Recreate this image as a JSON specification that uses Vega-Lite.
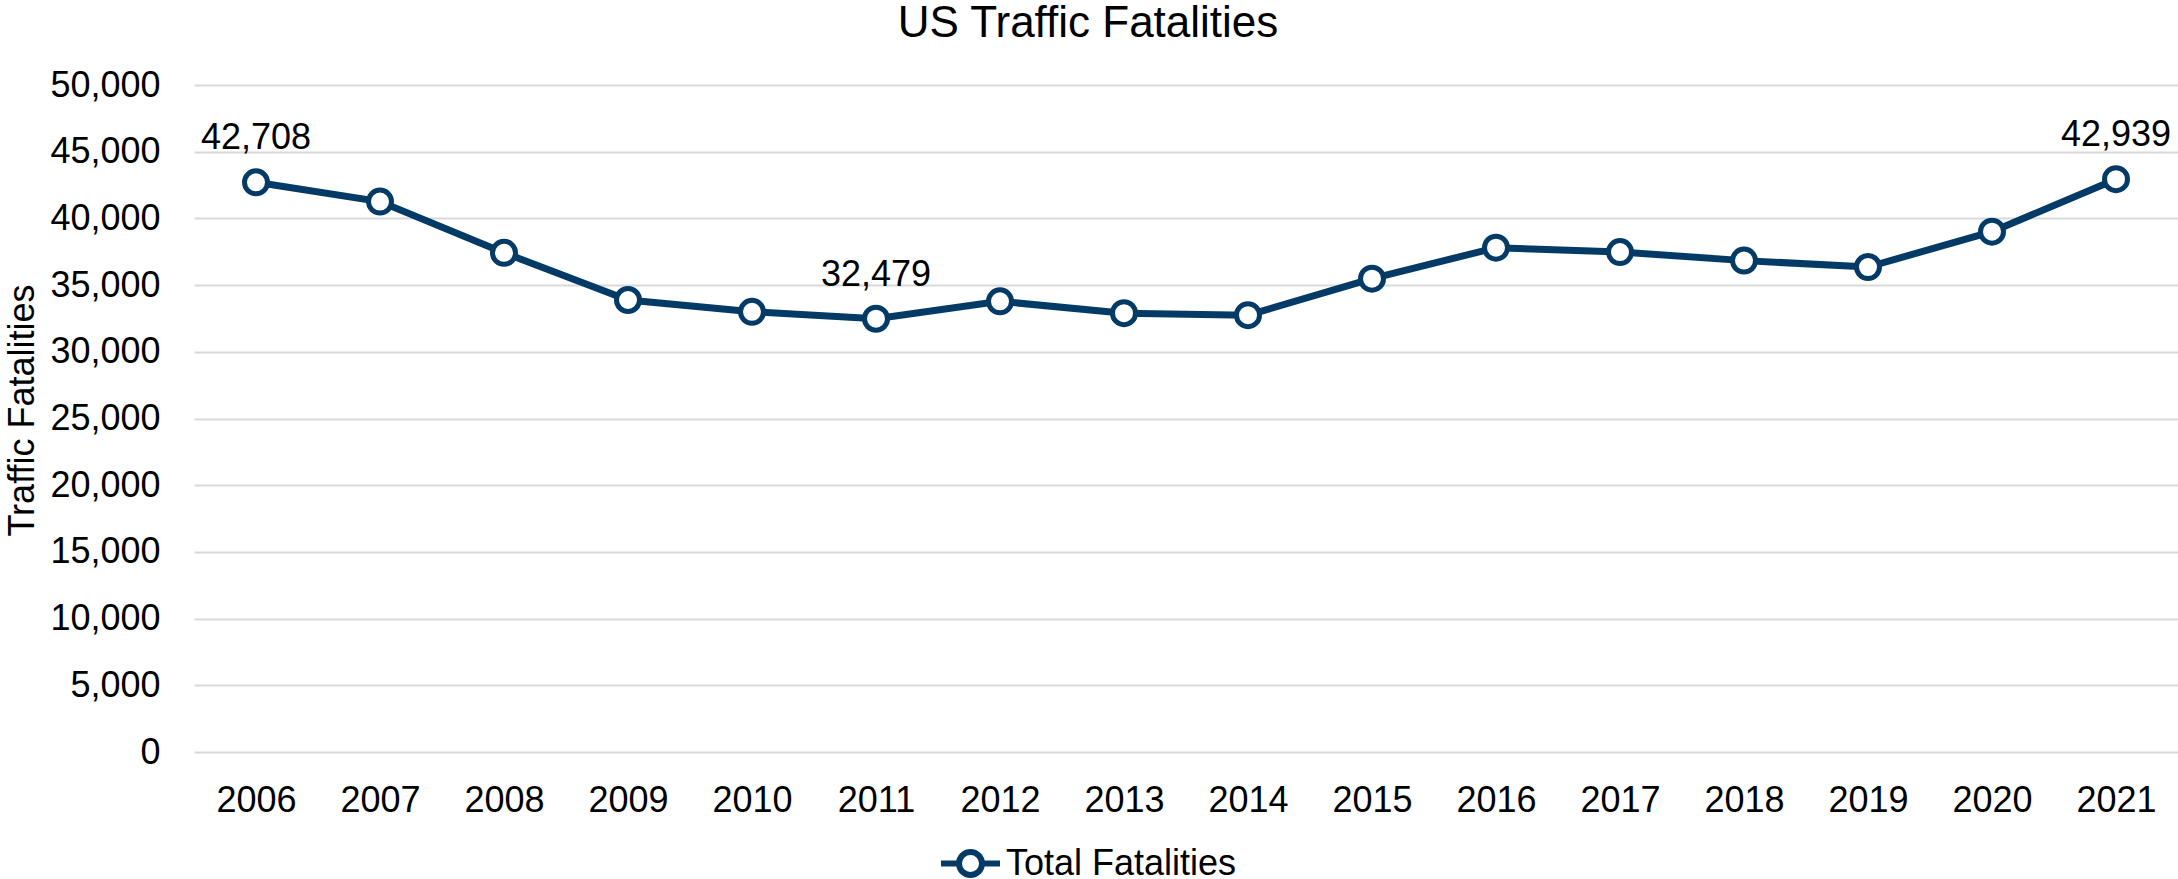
{
  "$schema": "https://vega.github.io/schema/vega-lite/v6.json",
  "width": 1984,
  "height": 667,
  "autosize": "none",
  "padding": {"left": 194, "top": 85, "right": 0, "bottom": 127},
  "background": "white",
  "config": {"view": {"stroke": null}, "font": "Liberation Sans"},
  "title": {"text": "US Traffic Fatalities", "fontSize": 44, "font": "Liberation Sans", "fontWeight": "normal", "color": "black", "anchor": "middle", "dx": -98, "offset": 21},
  "data": {"values": [
    {"year": 2006, "fatalities": 42708, "series": "Total Fatalities"},
    {"year": 2007, "fatalities": 41259, "series": "Total Fatalities"},
    {"year": 2008, "fatalities": 37423, "series": "Total Fatalities"},
    {"year": 2009, "fatalities": 33883, "series": "Total Fatalities"},
    {"year": 2010, "fatalities": 32999, "series": "Total Fatalities"},
    {"year": 2011, "fatalities": 32479, "series": "Total Fatalities"},
    {"year": 2012, "fatalities": 33782, "series": "Total Fatalities"},
    {"year": 2013, "fatalities": 32893, "series": "Total Fatalities"},
    {"year": 2014, "fatalities": 32744, "series": "Total Fatalities"},
    {"year": 2015, "fatalities": 35484, "series": "Total Fatalities"},
    {"year": 2016, "fatalities": 37806, "series": "Total Fatalities"},
    {"year": 2017, "fatalities": 37473, "series": "Total Fatalities"},
    {"year": 2018, "fatalities": 36835, "series": "Total Fatalities"},
    {"year": 2019, "fatalities": 36355, "series": "Total Fatalities"},
    {"year": 2020, "fatalities": 39007, "series": "Total Fatalities"},
    {"year": 2021, "fatalities": 42939, "series": "Total Fatalities"}
  ]},
  "encoding": {
    "x": {"field": "year", "type": "ordinal", "scale": {"type": "point", "padding": 0.5},
      "axis": {"title": null, "labelAngle": 0, "labelFontSize": 36, "labelFont": "Liberation Sans", "labelColor": "black", "ticks": false, "tickSize": 0, "domain": false, "grid": false, "labelPadding": 31}},
    "y": {"field": "fatalities", "type": "quantitative", "scale": {"domain": [0, 50000], "nice": false},
      "axis": {"title": "Traffic Fatalities", "values": [0,5000,10000,15000,20000,25000,30000,35000,40000,45000,50000], "format": ",.0f", "labelFontSize": 36, "labelFont": "Liberation Sans", "labelColor": "black", "ticks": false, "tickSize": 0, "domain": false, "grid": true, "gridColor": "#d9d9d9", "gridWidth": 2, "labelPadding": 34,
        "titleFontSize": 36, "titleFont": "Liberation Sans", "titleFontWeight": "normal", "titleColor": "black", "titleX": -172, "titleY": 325, "titleBaseline": "middle", "titleAngle": -90}}
  },
  "layer": [
    {"mark": {"type": "line", "color": "#043b66", "strokeWidth": 7}},
    {"mark": {"type": "point", "shape": "circle", "filled": true, "fill": "white", "size": 529, "strokeWidth": 5, "opacity": 1},
      "encoding": {"stroke": {"field": "series", "type": "nominal", "scale": {"range": ["#043b66"]},
        "legend": {"title": null, "orient": "none", "legendX": 744, "legendY": 746, "padding": 0,
          "symbolType": "M-1,0H-0.39M0.39,0H1M0.39,0A0.39,0.39,0,1,1,-0.39,0A0.39,0.39,0,1,1,0.39,0",
          "symbolSize": 3481, "symbolStrokeWidth": 6, "symbolFillColor": "white",
          "labelFontSize": 36, "labelFont": "Liberation Sans", "labelColor": "black", "labelOffset": 3, "labelLimit": 0,
          "encode": {"symbols": {"update": {"fill": {"value": "white"}, "strokeCap": {"value": "round"}, "opacity": {"value": 1}}}}}}}},
    {"transform": [{"filter": {"field": "year", "oneOf": [2006, 2011, 2021]}}],
      "mark": {"type": "text", "dy": -33, "baseline": "alphabetic", "align": "center", "fontSize": 36, "font": "Liberation Sans", "color": "black"},
      "encoding": {"text": {"field": "fatalities", "type": "quantitative", "format": ","}}}
  ]
}
